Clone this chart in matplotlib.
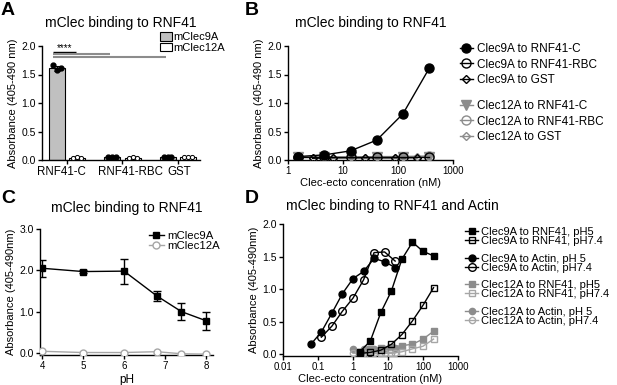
import matplotlib
matplotlib.use("Agg")
import matplotlib.pyplot as plt
import matplotlib.transforms as mtransforms
from matplotlib.lines import Line2D
import numpy as np

plt.rcParams['font.family'] = ['Liberation Sans', 'DejaVu Sans']
plt.rcParams['axes.linewidth'] = 1.0
plt.rcParams['xtick.major.width'] = 1.0
plt.rcParams['ytick.major.width'] = 1.0
plt.rcParams['xtick.major.size'] = 3
plt.rcParams['ytick.major.size'] = 3

# ---------------- data ----------------
# Panel A
a_categories = ["RNF41-C", "RNF41-RBC", "GST"]
a_clec9a = [1.61, 0.05, 0.06]
a_clec9a_err = [0.04, 0.005, 0.005]
a_clec9a_pts = [[1.66, 1.58, 1.62], [0.05, 0.05, 0.05], [0.06, 0.06, 0.06]]
a_clec12a = [0.04, 0.04, 0.05]
a_clec12a_err = [0.01, 0.01, 0.01]
a_clec12a_pts = [[0.04, 0.05, 0.04], [0.04, 0.05, 0.04], [0.05, 0.06, 0.05]]
a_sig_y = [1.89, 1.86, 1.81]
a_sig_end = [0, 1, 2]

# Panel B
b_conc = [1.52, 4.57, 13.7, 41.2, 123, 370]
b_conc_gst = [2.8, 6.6, 25, 89, 222]
b_9a_rnf41c = [0.06, 0.09, 0.16, 0.35, 0.81, 1.61]
b_9a_rbc = [0.05, 0.05, 0.05, 0.05, 0.05, 0.05]
b_9a_gst = [0.03, 0.04, 0.04, 0.04, 0.04]
b_12a_rnf41c = [0.05, 0.05, 0.05, 0.05, 0.06, 0.06]
b_12a_rbc = [0.05, 0.05, 0.05, 0.06, 0.06, 0.07]
b_12a_gst = [0.04, 0.04, 0.04, 0.04, 0.05]

# Panel C
c_ph = [4, 5, 6, 6.8, 7.4, 8]
c_9a = [2.05, 1.97, 1.98, 1.38, 1.0, 0.78]
c_9a_err = [0.21, 0.03, 0.30, 0.13, 0.20, 0.22]
c_12a = [0.04, 0.01, 0.01, 0.03, -0.02, -0.03]

# Panel D
d_conc_actin = [0.0625, 0.125, 0.25, 0.5, 1, 2, 4, 8, 16]
d_9a_actin_ph5 = [0.15, 0.34, 0.63, 0.93, 1.16, 1.27, 1.47, 1.42, 1.33]
d_conc_actin74 = [0.125, 0.25, 0.5, 1, 2, 4, 8, 16]
d_9a_actin_ph74 = [0.26, 0.43, 0.66, 0.86, 1.14, 1.56, 1.57, 1.43]
d_conc_rnf41 = [1.5625, 3.125, 6.25, 12.5, 25, 50, 100, 200]
d_9a_rnf41_ph5 = [0.035, 0.20, 0.64, 0.97, 1.46, 1.72, 1.58, 1.51]
d_9a_rnf41_ph74 = [0.01, 0.025, 0.06, 0.15, 0.30, 0.51, 0.75, 1.02]
d_12a_rnf41_ph5 = [0.02, 0.07, 0.10, 0.11, 0.13, 0.15, 0.23, 0.35]
d_12a_rnf41_ph74 = [0.0, 0.0, 0.01, 0.01, 0.035, 0.08, 0.12, 0.23]
d_conc_12a_actin = [1, 2, 4, 8, 16]
d_12a_actin_ph5 = [0.07, 0.07, 0.08, 0.08, 0.09]
d_12a_actin_ph74 = [0.01, 0.01, 0.02, 0.02, 0.02]

GRAY = "#8c8c8c"
LGRAY = "#a6a6a6"
W, H = 617, 385
fig = plt.figure(figsize=(W / 100, H / 100), dpi=100)


def px_axes(l, t, r, b):
    return fig.add_axes([l / W, 1 - b / H, (r - l) / W, (b - t) / H])


def style(ax):
    for s in ("top", "right"):
        ax.spines[s].set_visible(False)
    ax.tick_params(direction="out", labelsize=7.5, pad=1.5)


# ---------------- Panel A ----------------
axA = px_axes(42, 46, 200, 160)
style(axA)
x = np.arange(len(a_categories))
off, bw = 0.185, 0.29
axA.bar(x - off, a_clec9a, bw, color="#c0c0c0", edgecolor="black", linewidth=0.8,
        yerr=a_clec9a_err, capsize=2, error_kw=dict(elinewidth=0.8, capthick=0.8), label="mClec9A")
axA.bar(x + off, a_clec12a, bw, color="white", edgecolor="black", linewidth=0.8,
        yerr=a_clec12a_err, capsize=2, error_kw=dict(elinewidth=0.8, capthick=0.8), label="mClec12A")
for i in range(len(a_categories)):
    axA.plot(x[i] - off + np.array([-0.07, 0, 0.07]), a_clec9a_pts[i], "o", color="black",
             markersize=3.5, zorder=5)
    axA.plot(x[i] + off + np.array([-0.07, 0, 0.07]), a_clec12a_pts[i], "o", mfc="white",
             mec="black", markersize=3, mew=0.7, zorder=5)
x0 = -off - 0.06
for k, (yv, e) in enumerate(zip(a_sig_y, a_sig_end)):
    xe = e - off - 0.03 if e > 0 else off - 0.03
    axA.plot([x0, xe], [yv, yv], color="black" if k == 0 else GRAY, lw=1.5 if k else 1.0,
             solid_capstyle="butt")
axA.text((x0 + off - 0.03) / 2, a_sig_y[0] - 0.01, "****", ha="center", va="bottom", fontsize=7)
axA.set_xlim(-0.45, 2.4)
axA.set_ylim(0, 2.0)
axA.set_yticks([0, 0.5, 1.0, 1.5, 2.0])
axA.set_yticklabels(["0.0", "0.5", "1.0", "1.5", "2.0"])
axA.set_xticks(x)
axA.set_xticklabels(a_categories, fontsize=8.3)
for lbl, dx in zip(axA.get_xticklabels(), [-6, 8, 1]):
    lbl.set_transform(lbl.get_transform() + mtransforms.ScaledTranslation(dx / 100, 0, fig.dpi_scale_trans))
axA.set_ylabel("Absorbance (405-490 nm)", fontsize=8, labelpad=2)
axA.set_title("mClec binding to RNF41", fontsize=10, pad=14)
axA.legend(loc="upper left", bbox_to_anchor=(160 / W, 1 - 32 / H), bbox_transform=fig.transFigure,
           frameon=False, fontsize=8, handlelength=1.1, handleheight=0.8, handletextpad=0.1,
           labelspacing=0.05, borderpad=0, borderaxespad=0)

# ---------------- Panel B ----------------
axB = px_axes(288, 46, 453, 160)
style(axB)
axB.set_xscale("log")
ms = 6.5
l1, = axB.plot(b_conc, b_9a_rnf41c, "-o", color="black", mfc="black", ms=ms, lw=1, label="Clec9A to RNF41-C", zorder=6)
l2, = axB.plot(b_conc, b_9a_rbc, "-o", color="black", mfc="none", ms=ms, lw=1, label="Clec9A to RNF41-RBC", zorder=5)
l3, = axB.plot(b_conc_gst, b_9a_gst, "-D", color="black", mfc="none", ms=4.5, lw=1, label="Clec9A to GST", zorder=5)
l4, = axB.plot(b_conc, b_12a_rnf41c, "-v", color=GRAY, mfc=GRAY, ms=ms, lw=1, label="Clec12A to RNF41-C", zorder=4)
l5, = axB.plot(b_conc, b_12a_rbc, "-o", color=GRAY, mfc="none", ms=ms, lw=1, label="Clec12A to RNF41-RBC", zorder=4)
l6, = axB.plot(b_conc_gst, b_12a_gst, "-D", color=GRAY, mfc="none", ms=4.5, lw=1, label="Clec12A to GST", zorder=4)
axB.set_xlim(1, 1000)
axB.set_ylim(0, 2.0)
axB.set_xticks([1, 10, 100, 1000])
axB.set_xticklabels(["1", "10", "100", "1000"], fontsize=7)
axB.minorticks_off()
axB.set_yticks([0, 0.5, 1.0, 1.5, 2.0])
axB.set_yticklabels(["0.0", "0.5", "1.0", "1.5", "2.0"])
axB.set_ylabel("Absorbance (405-490 nm)", fontsize=8, labelpad=2)
axB.set_xlabel("Clec-ecto concenration (nM)", fontsize=8, labelpad=1)
axB.set_title("mClec binding to RNF41", fontsize=10, pad=14)
legkw = dict(frameon=False, fontsize=8.5, handlelength=1.1, handletextpad=0.3, labelspacing=0.3,
             borderpad=0, borderaxespad=0, bbox_transform=fig.transFigure, loc="upper left")
legB1 = axB.legend(handles=[l1, l2, l3], bbox_to_anchor=(460 / W, 1 - 43 / H), **legkw)
axB.add_artist(legB1)
axB.legend(handles=[l4, l5, l6], bbox_to_anchor=(460 / W, 1 - 100 / H), **legkw)

# ---------------- Panel C ----------------
axC = px_axes(40, 229, 213, 355)
style(axC)
eb = axC.errorbar(c_ph, c_9a, yerr=c_9a_err, fmt="-s", color="black", mfc="black", ms=5, lw=1,
                  capsize=3, elinewidth=1, capthick=1, label="mClec9A", zorder=5)
lc2, = axC.plot(c_ph, c_12a, "-o", color=LGRAY, mfc="white", ms=5, lw=1, label="mClec12A", zorder=4)
lc1 = Line2D([], [], color="black", marker="s", mfc="black", ms=5, lw=1)
axC.set_xlim(3.95, 8.17)
axC.set_ylim(-0.05, 3.0)
axC.set_xticks([4, 5, 6, 7, 8])
axC.set_xticklabels(["4", "5", "6", "7", "8"], fontsize=7)
axC.set_yticks([0, 1, 2, 3])
axC.set_yticklabels(["0.0", "1.0", "2.0", "3.0"])
axC.set_ylabel("Absorbance (405-490nm)", fontsize=8, labelpad=2)
axC.set_xlabel("pH", fontsize=8.5, labelpad=2)
axC.set_title("mClec binding to RNF41", fontsize=10, pad=12)
axC.legend(handles=[lc1, lc2], labels=["mClec9A", "mClec12A"],
           loc="upper left", bbox_to_anchor=(149 / W, 1 - 231 / H), bbox_transform=fig.transFigure,
           frameon=False, fontsize=8.2, handlelength=1.3, handletextpad=0.3, labelspacing=0.0,
           borderpad=0, borderaxespad=0)

# ---------------- Panel D ----------------
axD = px_axes(283, 224, 458, 356)
style(axD)
axD.set_xscale("log")
msd = 5
k1, = axD.plot(d_conc_rnf41, d_9a_rnf41_ph5, "-s", color="black", mfc="black", ms=msd, lw=1, label="Clec9A to RNF41, pH5", zorder=6)
k2, = axD.plot(d_conc_rnf41, d_9a_rnf41_ph74, "-s", color="black", mfc="none", ms=msd, lw=1, label="Clec9A to RNF41, pH7.4", zorder=6)
k3, = axD.plot(d_conc_actin, d_9a_actin_ph5, "-o", color="black", mfc="black", ms=msd, lw=1, label="Clec9A to Actin, pH 5", zorder=6)
k4, = axD.plot(d_conc_actin74, d_9a_actin_ph74, "-o", color="black", mfc="none", ms=msd + 0.5, lw=1, label="Clec9A to Actin, pH7.4", zorder=6)
k5, = axD.plot(d_conc_rnf41, d_12a_rnf41_ph5, "-s", color=GRAY, mfc=GRAY, ms=msd - 0.5, lw=1, label="Clec12A to RNF41, pH5", zorder=4)
k6, = axD.plot(d_conc_rnf41, d_12a_rnf41_ph74, "-s", color=LGRAY, mfc="none", ms=msd - 0.5, lw=1, label="Clec12A to RNF41, pH7.4", zorder=4)
k7, = axD.plot(d_conc_12a_actin, d_12a_actin_ph5, "-o", color=GRAY, mfc=GRAY, ms=msd - 0.5, lw=1, label="Clec12A to Actin, pH 5", zorder=4)
k8, = axD.plot(d_conc_12a_actin, d_12a_actin_ph74, "-o", color=LGRAY, mfc="none", ms=msd - 0.5, lw=1, label="Clec12A to Actin, pH7.4", zorder=4)
axD.set_xlim(0.01, 1000)
axD.set_ylim(-0.03, 2.0)
axD.set_xticks([0.01, 0.1, 1, 10, 100, 1000])
axD.set_xticklabels(["0.01", "0.1", "1", "10", "100", "1000"], fontsize=7)
axD.minorticks_off()
axD.set_yticks([0, 0.5, 1.0, 1.5, 2.0])
axD.set_yticklabels(["0.0", "0.5", "1.0", "1.5", "2.0"])
axD.set_ylabel("Absorbance (405-490nm)", fontsize=8, labelpad=2)
axD.set_xlabel("Clec-ecto concentration (nM)", fontsize=8, labelpad=1)
axD.set_title("mClec binding to RNF41 and Actin", fontsize=10, pad=10, loc="left", x=0.02)
blank = Line2D([], [], linestyle="none")
hs = [k1, k2, blank, k3, k4, blank, k5, k6, blank, k7, k8]
axD.legend(handles=hs, labels=[h.get_label() if h is not blank else "" for h in hs],
           loc="upper left", bbox_to_anchor=(465 / W, 1 - 227 / H), bbox_transform=fig.transFigure,
           frameon=False, fontsize=8, handlelength=1.2, handletextpad=0.2, labelspacing=-0.1,
           borderpad=0, borderaxespad=0)

# panel letters
for lab, (px, py) in {"A": (1, 2), "B": (245, 2), "C": (1, 190), "D": (245, 190)}.items():
    fig.text(px / W, 1 - py / H, lab, fontsize=14, fontweight="bold", ha="left", va="top")

fig.savefig("out.png", dpi=100)
